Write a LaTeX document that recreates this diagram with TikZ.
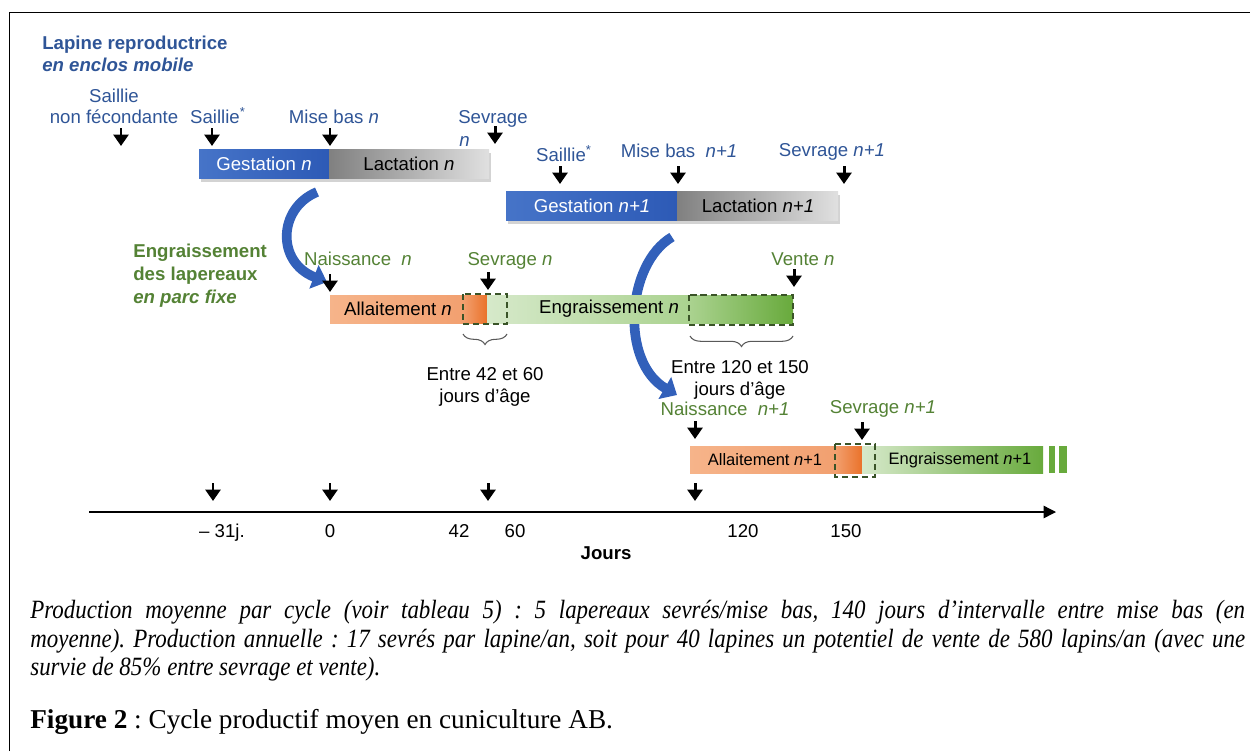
\documentclass[tikz,border=0pt]{standalone}
\usepackage{fontspec}
\setmainfont{Liberation Sans}
\newfontfamily\legende{Liberation Serif}
\newfontfamily\legendeserree[FakeStretch=0.87]{Liberation Serif}
\usepackage{tikz}
\usetikzlibrary{arrows.meta}
\usetikzlibrary{decorations.pathreplacing, shadows}
\usepackage{xcolor}
\frenchspacing

\definecolor{bleutxt}{RGB}{47,85,151}
\definecolor{verttxt}{RGB}{84,130,53}
\definecolor{bleuA}{RGB}{70,116,200}
\definecolor{bleuB}{RGB}{45,90,182}
\definecolor{grisA}{RGB}{128,128,128}
\definecolor{grisB}{RGB}{224,224,224}
\definecolor{orangeA}{RGB}{246,180,138}
\definecolor{orangeB}{RGB}{242,160,112}
\definecolor{orangeC}{RGB}{234,114,42}
\definecolor{vertA}{RGB}{214,233,202}
\definecolor{vertB}{RGB}{170,210,143}
\definecolor{vertC}{RGB}{104,170,60}
\definecolor{vertfonce}{RGB}{58,84,40}
\definecolor{bleufleche}{RGB}{50,96,186}

\begin{document}
\begin{tikzpicture}[x=0.02cm, y=-0.02cm, font=\fontsize{10.6}{12.5}\selectfont,
    evt/.style={-{Triangle[width=8.5pt,length=6.5pt]}, line width=1.7pt},
    courbe/.style={draw=bleufleche, line width=5.5pt, -{Triangle[length=8pt,width=14pt]}},
    pointille/.style={draw=vertfonce, line width=0.9pt, dash pattern=on 3.5pt off 2.2pt},
    accolade/.style={decorate, decoration={brace, mirror, amplitude=6pt}, draw=black!65, line width=0.6pt},
    lbl/.style={anchor=base, inner sep=0pt}]
      \useasboundingbox (0,0) rectangle (1250,751);
      \draw[line width=1.1pt] (9.5,751) -- (9.5,12.5) -- (1250,12.5);

      % fleches courbes (sous les barres)
      \draw[courbe] (317,192) .. controls (278,208) and (276,262) .. (327,282);
      \draw[courbe] (672,237) .. controls (626,264) and (620,362) .. (677,395);

      % lapine reproductrice
      \node[lbl, anchor=base west, text=bleutxt] (titre1) at (42,49) {\bfseries Lapine reproductrice};
      \node[lbl, anchor=base west, text=bleutxt] (titre2) at (42,71) {\bfseries\itshape en enclos mobile};
      \node[lbl, text=bleutxt] (sail0a) at (114,102) {Saillie};
      \node[lbl, text=bleutxt] (sail0b) at (114,123) {non fécondante};
      \node[lbl, text=bleutxt] (sail1) at (218,123) {Saillie\textsuperscript{*}};
      \node[lbl, text=bleutxt] (mb1) at (334,123) {Mise bas \textit{n}};
      \node[lbl, text=bleutxt] (sev1) at (493,123) {Sevrage};
      \node[lbl, anchor=base west, text=bleutxt] (sev1n) at (459,146) {\textit{n}};
      \node[lbl, text=bleutxt] (sail2) at (564,161) {Saillie\textsuperscript{*}};
      \node[lbl, text=bleutxt] (mb2) at (679,157) {Mise bas~~\textit{n+1}};
      \node[lbl, text=bleutxt] (sev2) at (832,156) {Sevrage \textit{n+1}};

      \path[fill=white, drop shadow={opacity=0.35, shadow xshift=1pt, shadow yshift=-2pt}] (199,149) rectangle (489,178);
      \shade[left color=bleuA, right color=bleuB] (199,149) rectangle (329,178);
      \shade[left color=grisA, right color=grisB] (329,149) rectangle (489,178);
      \path[fill=white, drop shadow={opacity=0.35, shadow xshift=1pt, shadow yshift=-2pt}] (506,191) rectangle (838,220);
      \shade[left color=bleuA, right color=bleuB] (506,191) rectangle (677,220);
      \shade[left color=grisA, right color=grisB] (677,191) rectangle (838,220);
      \node[text=white] (gest1) at (264,164) {Gestation \textit{n}};
      \node (lact1) at (409,164) {Lactation \textit{n}};
      \node[text=white] (gest2) at (592,206) {Gestation \textit{n+1}};
      \node (lact2) at (758,206) {Lactation \textit{n+1}};

      % lapereaux
      \node[lbl, anchor=base west, text=verttxt] (eng1) at (133,257) {\bfseries Engraissement};
      \node[lbl, anchor=base west, text=verttxt] (eng2) at (133,280) {\bfseries des lapereaux};
      \node[lbl, anchor=base west, text=verttxt] (eng3) at (133,303) {\bfseries\itshape en parc fixe};
      \node[lbl, text=verttxt] (nais1) at (358,265) {Naissance~~\textit{n}};
      \node[lbl, text=verttxt] (sevr1) at (510,265) {Sevrage \textit{n}};
      \node[lbl, text=verttxt] (vente1) at (803,265) {Vente \textit{n}};
      \node[lbl, text=verttxt] (nais2) at (725,415) {Naissance~~\textit{n+1}};
      \node[lbl, text=verttxt] (sevr2) at (883,413) {Sevrage \textit{n+1}};

      \shade[left color=orangeA, right color=orangeB] (330,295) rectangle (463,323);
      \shade[left color=orangeB, right color=orangeC] (463,295) rectangle (487,323);
      \shade[left color=vertA, right color=vertB] (487,295) rectangle (690,323);
      \shade[left color=vertB, right color=vertC] (690,295) rectangle (793,323);
      \draw[pointille] (463,294) rectangle (507,324);
      \draw[pointille] (689,295) rectangle (793,325);
      \node (allait1) at (398,309) {Allaitement \textit{n}};
      \node (engr1) at (609,309) {Engraissement \textit{n}};

      \shade[left color=orangeA, right color=orangeB] (690,446) rectangle (835,473);
      \shade[left color=orangeB, right color=orangeC] (835,446) rectangle (862,473);
      \shade[left color=vertA, right color=vertC] (862,446) rectangle (1043,473);
      \fill[vertC] (1049,446) rectangle (1055,473);
      \fill[vertC] (1059,446) rectangle (1067,473);
      \draw[pointille] (835,444) rectangle (875,477);
      \node[font=\fontsize{9.4}{11}\selectfont] (allait2) at (765,460) {Allaitement \textit{n}+1};
      \node[font=\fontsize{9.4}{11}\selectfont] (engr2) at (960,460) {Engraissement \textit{n}+1};

      \draw[accolade] (463,334) -- (507,334);
      \draw[accolade] (690,336) -- (793,336);
      \node[lbl] (age1a) at (485,380) {Entre 42 et 60};
      \node[lbl] (age1b) at (485,402) {jours d’âge};
      \node[lbl] (age2a) at (740,373) {Entre 120 et 150};
      \node[lbl] (age2b) at (740,395) {jours d’âge};

      % evenements
      \foreach \x/\y in {121/146, 212/146, 330/146, 495/144, 560/184, 678/184, 844/184,
                         330/292, 488/290, 794/287, 695/439, 862/440,
                         213/501, 330/501, 488/501, 695/501} {
        \draw[evt] (\x,\y-18) -- (\x,\y);
      }

      % axe
      \coordinate (debut) at (89,512);
      \coordinate (fin) at (1056,512);
      \draw[line width=0.8pt, -{Triangle[width=7pt,length=7pt]}] (debut) -- (fin);
      \foreach \x/\t [count=\i] in {222/{-- 31j.}, 330/0, 459/42, 515/60, 743/120, 846/150} {
        \node[lbl] (t\i) at (\x,537) {\t};
      }
      \node[lbl] (jours) at (606,559) {\bfseries Jours};

      % legende
      \node[anchor=north west, inner sep=0pt, text width=24.3cm, align=justify,
            font=\legendeserree\fontsize{15}{16.2}\selectfont] (prod) at (30,600)
        {\itshape Production moyenne par cycle (voir tableau 5) : 5 lapereaux sevrés/mise bas, 140 jours d’intervalle entre mise bas (en\linebreak moyenne). Production annuelle : 17 sevrés par lapine/an, soit pour 40 lapines un potentiel de vente de 580 lapins/an (avec une\linebreak survie de 85\% entre sevrage et vente).};
      \node[lbl, anchor=base west, font=\legende\fontsize{15.5}{16.2}\selectfont] (fig) at (30,728)
        {\textbf{Figure 2} : Cycle productif moyen en cuniculture AB.};
\end{tikzpicture}
\end{document}
